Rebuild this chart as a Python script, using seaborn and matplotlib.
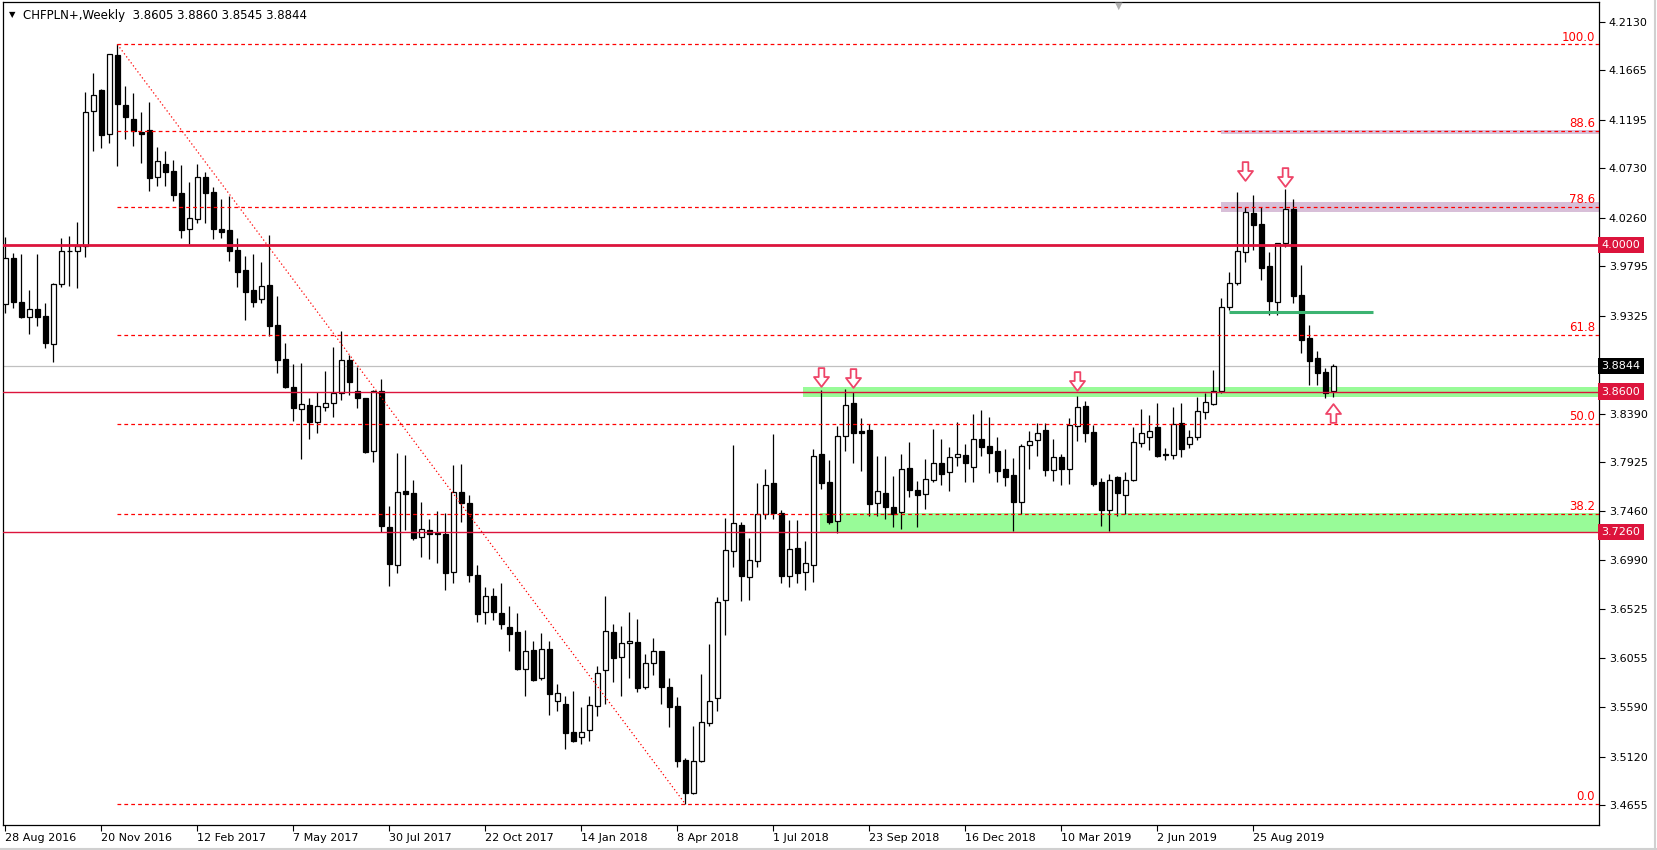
import numpy as np
import pandas as pd
import matplotlib
matplotlib.use("Agg")
import matplotlib.pyplot as plt
import matplotlib.transforms as mtrans
from matplotlib.patches import Rectangle
from matplotlib.path import Path
import seaborn as sns

# weekly CHFPLN+ candles, 28 Aug 2016 .. 3 Nov 2019
opens = [3.9436, 3.9878, 3.9458, 3.9309, 3.9385, 3.9321, 3.9054, 3.9623, 3.9938, 3.9938,
         3.9986, 4.1273, 4.1474, 4.1054, 4.1811, 4.1331, 4.1197, 4.1076, 4.1095, 4.0644,
         4.0768, 4.0704, 4.0495, 4.0148, 4.0243, 4.0647, 4.0504, 4.0151, 4.0142, 3.9951,
         3.9760, 3.9569, 3.9480, 3.9617, 3.9236, 3.8911, 3.8644, 3.8438, 3.8470, 3.8314,
         3.8457, 3.8495, 3.8583, 3.8898, 3.8609, 3.8536, 3.8033, 3.8609, 3.7305, 3.6943,
         3.7652, 3.7630, 3.7210, 3.7277, 3.7255, 3.7242, 3.6876, 3.7639, 3.7534, 3.6848,
         3.6500, 3.6650, 3.6486, 3.6355, 3.6308, 3.5952, 3.6133, 3.5872, 3.6142, 3.5647,
         3.5618, 3.5351, 3.5303, 3.5373, 3.5599, 3.5942, 3.6305, 3.6066, 3.6200, 3.6209,
         3.5780, 3.6009, 3.6123, 3.5786, 3.5602, 3.5087, 3.4769, 3.5080, 3.5443, 3.5675,
         3.6609, 3.7077, 3.7325, 3.6835, 3.6988, 3.7430, 3.7725, 3.7439, 3.6845, 3.7105,
         3.6883, 3.6943, 3.8005, 3.7735, 3.7370, 3.8180, 3.8492, 3.8225, 3.8234, 3.7535,
         3.7630, 3.7500, 3.7449, 3.7869, 3.7662, 3.7621, 3.7754, 3.7917, 3.7831, 3.7974,
         3.7993, 3.7885, 3.8145, 3.8082, 3.8037, 3.7862, 3.7805, 3.7544, 3.8088, 3.8142,
         3.8231, 3.7856, 3.7973, 3.7865, 3.8275, 3.8463, 3.8215, 3.7738, 3.7471, 3.7782,
         3.7617, 3.7754, 3.8107, 3.8170, 3.8259, 3.8005, 3.8000, 3.8297, 3.8100, 3.8164,
         3.8408, 3.8479, 3.8609, 3.9410, 3.9639, 3.9928, 4.0303, 4.0198, 3.9798, 3.9458,
         4.0020, 4.0341, 3.9521, 3.9108, 3.8917, 3.8787, 3.8605]
highs = [4.0072, 3.9919, 3.9913, 3.9569, 3.9913, 3.9442, 3.9633, 4.0062, 4.0084, 4.0218,
         4.1458, 4.1639, 4.1486, 4.1817, 4.1912, 4.1515, 4.1445, 4.1267, 4.1362, 4.0930,
         4.0892, 4.0809, 4.0762, 4.0599, 4.0771, 4.0692, 4.0555, 4.0437, 4.0466, 4.0065,
         3.9894, 3.9913, 3.9837, 4.0094, 3.9512, 3.9061, 3.8864, 3.8873, 3.8539, 3.8600,
         3.8797, 3.9026, 3.9180, 3.8949, 3.8838, 3.8540, 3.8615, 3.8717, 3.7509, 3.8011,
         3.7995, 3.7757, 3.7544, 3.7382, 3.7461, 3.7439, 3.7900, 3.7909, 3.7614, 3.6943,
         3.6740, 3.6724, 3.6771, 3.6556, 3.6486, 3.6327, 3.6219, 3.6295, 3.6222, 3.5812,
         3.5694, 3.5745, 3.5592, 3.5697, 3.5983, 3.6651, 3.6384, 3.6365, 3.6498, 3.6432,
         3.6098, 3.6247, 3.6125, 3.5872, 3.5691, 3.5103, 3.5414, 3.5907, 3.6193, 3.6644,
         3.7398, 3.8091, 3.7357, 3.7204, 3.7728, 3.7862, 3.8199, 3.7471, 3.7376, 3.7376,
         3.7175, 3.8050, 3.8620, 3.7948, 3.8276, 3.8625, 3.8600, 3.8346, 3.8288, 3.7986,
         3.7986, 3.7796, 3.8002, 3.8117, 3.7748, 3.7961, 3.8244, 3.8149, 3.8075, 3.8311,
         3.8101, 3.8387, 3.8425, 3.8355, 3.8171, 3.8053, 3.7964, 3.8100, 3.8224, 3.8304,
         3.8297, 3.8148, 3.8002, 3.8345, 3.8558, 3.8510, 3.8281, 3.7779, 3.7814, 3.7795,
         3.7833, 3.8266, 3.8431, 3.8377, 3.8488, 3.8060, 3.8450, 3.8488, 3.8234, 3.8545,
         3.8590, 3.8806, 3.9489, 3.9741, 4.0503, 4.0364, 4.0475, 4.0364, 3.9931, 4.0020,
         4.0532, 4.0434, 3.9807, 3.9235, 3.8987, 3.8822, 3.8860]
lows = [3.9347, 3.9395, 3.9299, 3.9147, 3.9229, 3.9013, 3.8880, 3.9595, 3.9608, 3.9592,
        3.9887, 4.0898, 4.0927, 4.0968, 4.0755, 4.1013, 4.0946, 4.0777, 4.0517, 4.0564,
        4.0564, 4.0421, 4.0069, 4.0008, 4.0205, 4.0212, 4.0056, 4.0069, 3.9849, 3.9601,
        3.9287, 3.9411, 3.9449, 3.9134, 3.8775, 3.8632, 3.8320, 3.7961, 3.8152, 3.8209,
        3.8419, 3.8361, 3.8520, 3.8567, 3.8440, 3.8011, 3.7932, 3.7264, 3.6749, 3.6867,
        3.7280, 3.7185, 3.7026, 3.7000, 3.6962, 3.6708, 3.6771, 3.7359, 3.6787, 3.6400,
        3.6380, 3.6420, 3.6333, 3.6130, 3.5945, 3.5701, 3.5844, 3.5850, 3.5519, 3.5558,
        3.5189, 3.5262, 3.5236, 3.5271, 3.5510, 3.5618, 3.5834, 3.5701, 3.5872, 3.5739,
        3.5761, 3.5898, 3.5618, 3.5405, 3.5023, 3.4667, 3.4762, 3.5071, 3.5414, 3.5557,
        3.6282, 3.6930, 3.6606, 3.6613, 3.6930, 3.7382, 3.7382, 3.6772, 3.6740, 3.6772,
        3.6708, 3.6787, 3.7668, 3.7337, 3.7249, 3.8037, 3.7923, 3.7847, 3.7414, 3.7414,
        3.7382, 3.7306, 3.7293, 3.7599, 3.7312, 3.7478, 3.7742, 3.7713, 3.7653, 3.7891,
        3.7735, 3.7735, 3.7986, 3.7821, 3.7742, 3.7703, 3.7274, 3.7429, 3.7862, 3.7989,
        3.7795, 3.7747, 3.7709, 3.7719, 3.8132, 3.8123, 3.7700, 3.7322, 3.7271, 3.7414,
        3.7433, 3.7751, 3.8075, 3.8043, 3.7973, 3.7950, 3.7960, 3.7980, 3.8060, 3.8138,
        3.8342, 3.8470, 3.8583, 3.9378, 3.9617, 3.9839, 3.9950, 3.9664, 3.9330, 3.9330,
        3.9982, 3.9448, 3.8971, 3.8663, 3.8663, 3.8536, 3.8545]
closes = [3.9878, 3.9458, 3.9315, 3.9385, 3.9309, 3.9061, 3.9623, 3.9938, 3.9942, 3.9986,
          4.1264, 4.1426, 4.1051, 4.1817, 4.1346, 4.1222, 4.1086, 4.1060, 4.0641, 4.0796,
          4.0698, 4.0479, 4.0145, 4.0253, 4.0647, 4.0491, 4.0154, 4.0126, 3.9945, 3.9744,
          3.9554, 3.9458, 3.9608, 3.9229, 3.8905, 3.8648, 3.8447, 3.8479, 3.8311, 3.8460,
          3.8489, 3.8584, 3.8898, 3.8695, 3.8536, 3.8027, 3.8609, 3.7321, 3.6953, 3.7646,
          3.7620, 3.7207, 3.7286, 3.7239, 3.7239, 3.6867, 3.7639, 3.7534, 3.6854, 3.6480,
          3.6647, 3.6495, 3.6381, 3.6292, 3.5955, 3.6130, 3.5850, 3.6142, 3.5713, 3.5723,
          3.5348, 3.5271, 3.5351, 3.5608, 3.5914, 3.6314, 3.6063, 3.6200, 3.6219, 3.5777,
          3.6009, 3.6123, 3.5780, 3.5595, 3.5080, 3.4769, 3.5077, 3.5446, 3.5646, 3.6594,
          3.7086, 3.7344, 3.6845, 3.6991, 3.7430, 3.7706, 3.7439, 3.6845, 3.7096, 3.6873,
          3.6962, 3.7983, 3.7732, 3.7360, 3.8174, 3.8473, 3.8209, 3.8209, 3.7529, 3.7650,
          3.7497, 3.7436, 3.7859, 3.7665, 3.7618, 3.7764, 3.7917, 3.7818, 3.7974, 3.8002,
          3.7917, 3.8145, 3.8075, 3.8018, 3.7840, 3.7789, 3.7550, 3.8078, 3.8129, 3.8205,
          3.7852, 3.7973, 3.7862, 3.8281, 3.8450, 3.8208, 3.7719, 3.7471, 3.7757, 3.7636,
          3.7754, 3.8116, 3.8202, 3.8221, 3.7986, 3.7995, 3.8291, 3.8050, 3.8170, 3.8415,
          3.8498, 3.8609, 3.9403, 3.9632, 3.9941, 4.0313, 4.0192, 3.9782, 3.9467, 4.0014,
          4.0341, 3.9515, 3.9092, 3.8895, 3.8780, 3.8583, 3.8844]

first_week = "2016-08-28"
xtick_labels = ["28 Aug 2016", "20 Nov 2016", "12 Feb 2017", "7 May 2017", "30 Jul 2017",
                "22 Oct 2017", "14 Jan 2018", "8 Apr 2018", "1 Jul 2018", "23 Sep 2018",
                "16 Dec 2018", "10 Mar 2019", "2 Jun 2019", "25 Aug 2019"]
ytick_values = [4.2130, 4.1665, 4.1195, 4.0730, 4.0260, 3.9795, 3.9325, 3.8390, 3.7925,
                3.7460, 3.6990, 3.6525, 3.6055, 3.5590, 3.5120, 3.4655]

# fibonacci retracement from the Nov 2016 high to the Apr 2018 low
fib_high, fib_low = 4.1912, 3.4667
fib_levels = [100.0, 88.6, 78.6, 61.8, 50.0, 38.2, 0.0]
fib_high_bar, fib_low_bar = 14, 85

level_prices = [4.0000, 3.8600, 3.7260]
level_widths = [2.0, 1.0, 1.0]
last_price = 3.8844
title_text = "CHFPLN+,Weekly  3.8605 3.8860 3.8545 3.8844"

purple_zones = [(4.1057, 4.1093), (4.0317, 4.0406)]
green_zones = [(3.8546, 3.8641, 99.7), (3.7265, 3.7440, 101.8)]
support_line = (3.9357, 152.9, 170.9)

down_arrow_bars = [102, 106, 134, 155, 160]
down_arrow_tips = [3.8650, 3.8640, 3.8610, 4.0610, 4.0560]
up_arrow_bar, up_arrow_tip = 166, 3.8487

df = pd.DataFrame({"date": pd.date_range(first_week, periods=len(opens), freq="W-SUN"),
                   "open": opens, "high": highs, "low": lows, "close": closes})
df["bar"] = np.arange(len(df))

sns.set_theme(style="white")
plt.rcParams['font.family'] = ['DejaVu Sans']

W, H = 1658, 850
fig = plt.figure(figsize=(W / 100, H / 100), dpi=100)
ax = fig.add_axes([3 / W, 25 / H, 1596 / W, 823 / H])
ax.set_facecolor("white")
ax.set_xlim(-0.29, 199.2)
ax.set_ylim(3.4467, 4.2316)

red = "#DC143C"

# zones (background)
for lo, hi in purple_zones:
    ax.add_patch(Rectangle((151.9, lo), 60, hi - lo, facecolor="#D8BFD8", edgecolor="none", zorder=1))
for lo, hi, start in green_zones:
    ax.add_patch(Rectangle((start, lo), 120, hi - lo, facecolor="#98FB98", edgecolor="none", zorder=1))

# candles
up = df[df.close >= df.open]
dn = df[df.close < df.open]
ax.vlines(df.bar, df.low, df.high, color="black", lw=0.9, zorder=3)
ax.bar(up.bar, np.maximum(up.close - up.open, 0.0004), bottom=up.open, width=0.62,
       facecolor="white", edgecolor="black", lw=0.9, zorder=4)
ax.bar(dn.bar, np.maximum(dn.open - dn.close, 0.0004), bottom=dn.close, width=0.62,
       facecolor="black", edgecolor="black", lw=0.9, zorder=4)

# horizontal levels
for p, w in zip(level_prices, level_widths):
    ax.axhline(p, color=red, lw=w, zorder=5)
ax.axhline(last_price, color="#C0C0C0", lw=0.9, zorder=2)
ax.hlines(support_line[0], support_line[1], support_line[2], color="#3CB371", lw=2.2, zorder=5)

# fibonacci
fib_tr = mtrans.blended_transform_factory(ax.transAxes, ax.transData)
for lv in fib_levels:
    p = fib_low + (fib_high - fib_low) * lv / 100
    ax.hlines(p, fib_high_bar, 199.2, color="red", lw=0.9, linestyles=(0, (3, 2.5)), zorder=5)
    ax.text(0.9975, p + 0.0008, f"{lv:.1f}", color="red", fontsize=8.5, ha="right", va="bottom",
            transform=fib_tr, zorder=6)
ax.plot([fib_high_bar, fib_low_bar], [fib_high, fib_low], color="red", lw=0.9,
        ls=(0, (1, 2)), zorder=5)

# hollow arrows (tip sits on the price, shape offset by half its height)
down_shape = Path([(-0.3, 1), (0.3, 1), (0.3, 0.05), (0.8, 0.05), (0, -1),
                   (-0.8, 0.05), (-0.3, 0.05), (-0.3, 1)], closed=True)
up_shape = Path([(x, -y) for x, y in down_shape.vertices], closed=True)
shift_up = ax.transData + mtrans.ScaledTranslation(0, 0.095, fig.dpi_scale_trans)
shift_dn = ax.transData + mtrans.ScaledTranslation(0, -0.095, fig.dpi_scale_trans)
arrow_style = dict(ls="none", ms=13.5, mfc="white", mec="#EE4468", mew=1.3, zorder=7)
ax.plot(down_arrow_bars, down_arrow_tips, marker=down_shape, transform=shift_up, **arrow_style)
ax.plot([up_arrow_bar], [up_arrow_tip], marker=up_shape, transform=shift_dn, **arrow_style)

# axes styling
for s in ax.spines.values():
    s.set_color("black")
    s.set_linewidth(0.9)
ax.yaxis.tick_right()
ax.set_yticks(ytick_values)
ax.set_yticklabels([f"{v:.4f}" for v in ytick_values])
ax.set_xticks(np.arange(0, 12 * len(xtick_labels), 12))
ax.set_xticklabels(xtick_labels, ha="left")
ax.tick_params(axis="both", which="both", direction="out", length=4, width=0.8, color="black",
               labelsize=8, labelcolor="black", pad=3, bottom=True, right=True, left=False)
ax.tick_params(axis="x", pad=2)

# price tags on the scale
for p in level_prices:
    ax.text(1.0016, p, f"{p:.4f}", transform=fib_tr, color="white", fontsize=8, ha="left", va="center",
            bbox=dict(boxstyle="square,pad=0.3", fc=red, ec="none"), clip_on=False, zorder=8)
ax.text(1.0016, last_price, f"{last_price:.4f}", transform=fib_tr, color="white", fontsize=8,
        ha="left", va="center", bbox=dict(boxstyle="square,pad=0.3", fc="black", ec="none"),
        clip_on=False, zorder=8)

# title and chart shift marker
fig.text(9 / W, 1 - 15 / H, "\u25bc", fontsize=6, color="black", va="center")
fig.text(23 / W, 1 - 15 / H, title_text, fontsize=8.5, color="black", va="center")
fig.text(1119 / W, 1 - 6 / H, "\u25bc", fontsize=7, color="#B0B0B0", ha="center", va="center")
fig.add_artist(plt.Line2D([1655.5 / W, 1655.5 / W], [0, 1], color="#D0D0D0", lw=1.5))
fig.add_artist(plt.Line2D([0, 1], [1.5 / H, 1.5 / H], color="#D0D0D0", lw=1.5))

fig.savefig("out.png", dpi=100, facecolor="white")
